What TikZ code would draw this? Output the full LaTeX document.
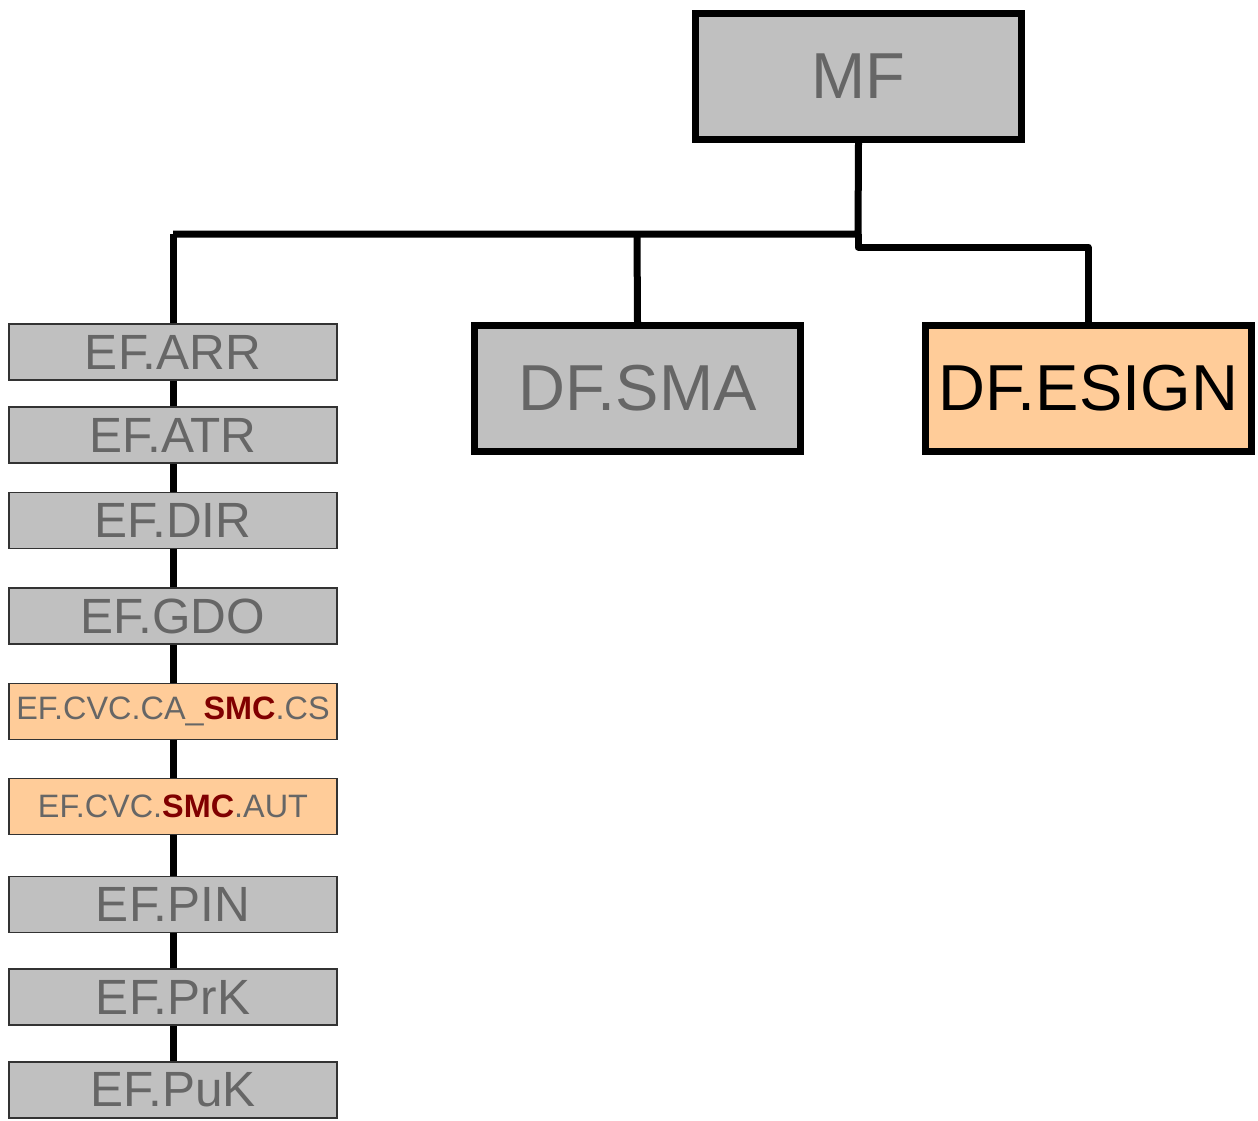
\documentclass[tikz,border=0pt]{standalone}
\usepackage{fontspec}
\setmainfont{Liberation Sans}
\definecolor{boxgray}{HTML}{C0C0C0}
\definecolor{boxorange}{HTML}{FFCC99}
\definecolor{txtgray}{HTML}{666666}
\definecolor{smcred}{HTML}{800000}
\definecolor{thinedge}{HTML}{333333}
\begin{document}
\begin{tikzpicture}[x=1pt,y=-1pt,
  bigbox/.style={draw=black,line width=7pt,minimum width=326pt,minimum height=126pt,
    inner sep=0pt,font=\fontsize{65}{65}\selectfont},
  efbox/.style={draw=thinedge,line width=1.2pt,fill=boxgray,minimum width=328pt,minimum height=56pt,
    inner sep=0pt,text=txtgray,font=\fontsize{49.5}{49.5}\selectfont},
  efsmall/.style={efbox,fill=boxorange,font=\fontsize{32.4}{32.4}\selectfont},
  link/.style={line width=7pt,draw=black,line join=round}]
\useasboundingbox (0,0) rectangle (1258,1120);

% vertical spine of the elementary files
\coordinate (spinetop) at (173,234);
\coordinate (spinebot) at (173,1090);
\draw[link] (spinetop) -- (spinebot);

% main file and dedicated files
\node[bigbox,fill=boxgray,text=txtgray] (mf) at (858.5,76.5) {MF};
\node[bigbox,fill=boxgray,text=txtgray] (sma) at (637.5,388.5) {DF.SMA};
\node[bigbox,fill=boxorange,text=black] (esign) at (1088,388.5) {DF.ESIGN};

% tree connectors
\coordinate (jl) at (858,234);
\coordinate (jm) at (637,232);
\coordinate (jr) at (858,247);
\draw[link] (mf.south) -- (jl) -- (spinetop);
\draw[link] (jl -| jm) -- (sma.north);
\draw[link] (jl) -- (jr) -- (jr -| esign.north) -- (esign.north);

% elementary files
\node[efbox] (arr) at (173,352) {EF.ARR};
\node[efbox] (atr) at (173,435) {EF.ATR};
\node[efbox] (dir) at (173,520.5) {EF.DIR};
\node[efbox] (gdo) at (173,616) {EF.GDO};
\node[efsmall] (cacs) at (173,711.5) {EF.CVC.CA\_\textcolor{smcred}{\bfseries SMC}.CS};
\node[efsmall] (aut) at (173,806.5) {EF.CVC.\textcolor{smcred}{\bfseries SMC}.AUT};
\node[efbox] (pin) at (173,904.5) {EF.PIN};
\node[efbox] (prk) at (173,997) {EF.PrK};
\node[efbox] (puk) at (173,1090) {EF.PuK};
\end{tikzpicture}
\end{document}
